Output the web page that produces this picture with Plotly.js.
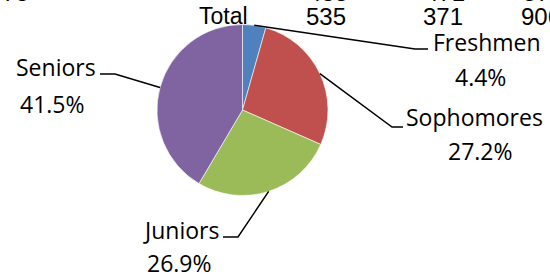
<!DOCTYPE html>
<html><head><meta charset="utf-8">
<script src="https://cdn.plot.ly/plotly-3.0.1.min.js"></script>
<style>html,body{margin:0;padding:0;background:#fff}#c{width:550px;height:274px}</style>
</head><body><div id="c"></div>
<script>
var categories = ["Freshmen", "Sophomores", "Juniors", "Seniors"];
var shares = [4.4, 27.2, 26.9, 41.5];
var colors = ["#4F81BD", "#C0504D", "#9BBB59", "#8064A2"];
var tableRowLabel = "Total";
var tableRowValues = ["535", "371", "906"];
var tablePrevValues = ["435", "471", "573"];
var tablePrevLeft = "375";

var W = 550, H = 274;
var cx = 242.5, cy = 110, R = 85.5;
function px(x){return x/W;}
function py(y){return 1 - y/H;}

// label layout (pixel positions): elbow point, end of horizontal, text anchor
var labelLayout = [
  {elbow:[415,49], end:[428,49], name:[431,42], nameAnchor:'left', pct:[480,77]},
  {elbow:[392,127], end:[403,127], name:[404,117], nameAnchor:'left', pct:[480,151]},
  {elbow:[238,237], end:[223,237], name:[221,230], nameAnchor:'right', pct:[179,263]},
  {elbow:[115,74], end:[100,74], name:[98,67], nameAnchor:'right', pct:[52,104]}
];

var total = shares.reduce(function(a,b){return a+b;},0);
var shapes = [], annotations = [];
var cum = 0;
var labelFont = {family:"'Open Sans', Lato, sans-serif", size:23, color:"#000"};
for (var i=0;i<shares.length;i++){
  var mid = (cum + shares[i]/2)/total;
  cum += shares[i];
  var a = mid*2*Math.PI;
  var sx = cx + R*Math.sin(a), sy = cy - R*Math.cos(a);
  var L = labelLayout[i];
  shapes.push({type:'path', xref:'paper', yref:'paper',
    path:'M'+px(sx)+','+py(sy)+' L'+px(L.elbow[0])+','+py(L.elbow[1])+' L'+px(L.end[0])+','+py(L.end[1]),
    line:{color:'#000', width:1.5}});
  annotations.push({xref:'paper', yref:'paper', x:px(L.name[0]), y:py(L.name[1]), xanchor:L.nameAnchor, yanchor:'middle',
    text:categories[i], showarrow:false, font:labelFont});
  annotations.push({xref:'paper', yref:'paper', x:px(L.pct[0]), y:py(L.pct[1]), xanchor:'center', yanchor:'middle',
    text:shares[i].toFixed(1)+'%', showarrow:false, font:labelFont});
}

var tFontL = {family:"'Liberation Sans', Arial, sans-serif", size:23, color:"#000"};
var tFont = {family:"'Liberation Sans', Arial, sans-serif", size:24, color:"#000"};
var colX = [304, 421, 519];
annotations.push({xref:'paper', yref:'paper', x:px(197), y:py(16), xanchor:'left', yanchor:'middle', text:tableRowLabel, showarrow:false, font:tFontL});
for (var j=0;j<tableRowValues.length;j++){
  annotations.push({xref:'paper', yref:'paper', x:px(colX[j]), y:py(16), xanchor:'left', yanchor:'middle', text:tableRowValues[j], showarrow:false, font:tFont});
  annotations.push({xref:'paper', yref:'paper', x:px(colX[j]+2), y:py(-7.5), xanchor:'left', yanchor:'middle', text:tablePrevValues[j], showarrow:false, font:tFont});
}
annotations.push({xref:'paper', yref:'paper', x:px(31), y:py(-7.5), xanchor:'right', yanchor:'middle', text:tablePrevLeft, showarrow:false, font:tFont});

var data = [{
  type:'pie', values:shares, labels:categories, sort:false, direction:'clockwise', rotation:0,
  marker:{colors:colors, line:{color:'#fff', width:0.6}},
  textinfo:'none', hoverinfo:'none', showlegend:false,
  domain:{x:[px(cx-R), px(cx+R)], y:[py(cy+R), py(cy-R)]}
}];
var layout = {width:W, height:H, margin:{l:0,r:0,t:0,b:0}, paper_bgcolor:'#fff', plot_bgcolor:'#fff',
  showlegend:false, shapes:shapes, annotations:annotations};
Plotly.newPlot('c', data, layout, {staticPlot:true, displayModeBar:false});
</script></body></html>
